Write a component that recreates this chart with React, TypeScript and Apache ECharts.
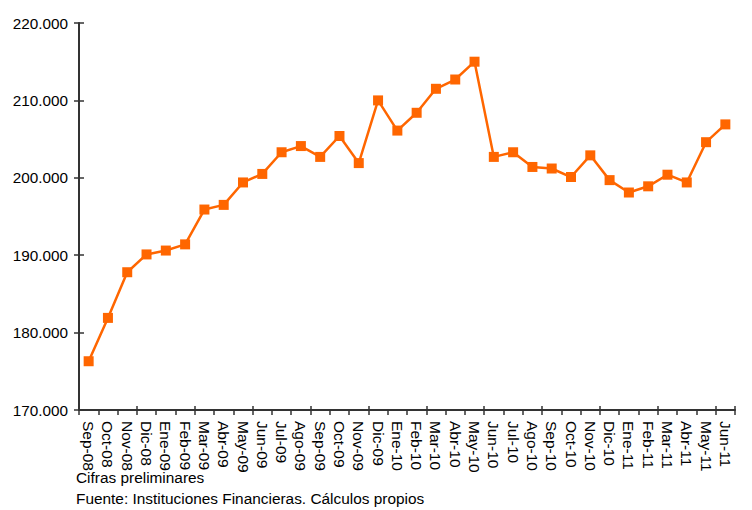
import React, { useEffect, useRef } from "react";
import * as echarts from "echarts";

const categories = [
  "Sep-08", "Oct-08", "Nov-08", "Dic-08", "Ene-09", "Feb-09", "Mar-09", "Abr-09", "May-09", "Jun-09",
  "Jul-09", "Ago-09", "Sep-09", "Oct-09", "Nov-09", "Dic-09", "Ene-10", "Feb-10", "Mar-10", "Abr-10",
  "May-10", "Jun-10", "Jul-10", "Ago-10", "Sep-10", "Oct-10", "Nov-10", "Dic-10", "Ene-11", "Feb-11",
  "Mar-11", "Abr-11", "May-11", "Jun-11",
];

const values = [
  176300, 181900, 187800, 190100, 190600, 191400, 195900, 196500, 199400, 200500,
  203300, 204100, 202700, 205400, 201900, 210000, 206100, 208400, 211500, 212700,
  215000, 202700, 203300, 201400, 201200, 200100, 202900, 199700, 198100, 198900,
  200400, 199400, 204600, 206900,
];

const yTicks = { min: 170000, max: 220000, interval: 10000 };

const notes = ["Cifras preliminares", "Fuente: Instituciones Financieras. Cálculos propios"];

const FONT = "'Liberation Sans', Arial, sans-serif";
const AXIS_COLOR = "#333333";

function fmt(v: number): string {
  return String(Math.round(v)).replace(/\B(?=(\d{3})+(?!\d))/g, ".");
}

export default function App() {
  const ref = useRef<HTMLDivElement>(null);
  useEffect(() => {
    if (!ref.current) return;
    const chart = echarts.init(ref.current, null, { renderer: "svg" });
    chart.setOption({
      animation: false,
      backgroundColor: "#ffffff",
      grid: { left: 79, right: 17, top: 23, bottom: 100, containLabel: false },
      xAxis: [
        {
          type: "category",
          data: categories,
          boundaryGap: true,
          axisLine: { lineStyle: { color: AXIS_COLOR, width: 2 } },
          axisTick: { show: true, length: 5, lineStyle: { color: AXIS_COLOR, width: 1.5 } },
          axisLabel: {
            rotate: -90,
            interval: 0,
            margin: 11,
            color: "#000",
            fontSize: 15.5,
            fontFamily: FONT,
          },
        },
        {
          type: "category",
          data: categories,
          boundaryGap: true,
          position: "bottom",
          axisLine: { show: false, onZero: false },
          axisTick: { show: true, inside: true, length: 4, lineStyle: { color: AXIS_COLOR, width: 1.5 } },
          axisLabel: { show: false },
        },
      ],
      yAxis: [
        {
          type: "value",
          min: yTicks.min,
          max: yTicks.max,
          interval: yTicks.interval,
          splitLine: { show: false },
          axisLine: { show: true, lineStyle: { color: AXIS_COLOR, width: 2 } },
          axisTick: { show: true, length: 5, lineStyle: { color: AXIS_COLOR, width: 1.5 } },
          axisLabel: {
            margin: 11,
            color: "#000",
            fontSize: 15.3,
            fontFamily: FONT,
            formatter: (v: number) => fmt(v),
          },
        },
        {
          type: "value",
          min: yTicks.min,
          max: yTicks.max,
          interval: yTicks.interval,
          position: "left",
          splitLine: { show: false },
          axisLine: { show: false, onZero: false },
          axisTick: { show: true, inside: true, length: 5, lineStyle: { color: AXIS_COLOR, width: 1.5 } },
          axisLabel: { show: false },
        },
      ],
      series: [
        {
          type: "line",
          data: values,
          symbol: "rect",
          symbolSize: 10,
          showSymbol: true,
          lineStyle: { color: "#FF6600", width: 2.5 },
          itemStyle: { color: "#FF6600" },
        },
      ],
      graphic: [
        {
          type: "text",
          left: 76,
          top: 470,
          style: { text: notes[0], fill: "#000", font: `15.4px ${FONT}` },
        },
        {
          type: "text",
          left: 76,
          top: 491,
          style: { text: notes[1], fill: "#000", font: `15.4px ${FONT}` },
        },
      ],
    });
    return () => chart.dispose();
  }, []);
  return (
    <div
      ref={ref}
      style={{ position: "fixed", left: 0, top: 0, width: 752, height: 510, background: "#fff" }}
    />
  );
}
